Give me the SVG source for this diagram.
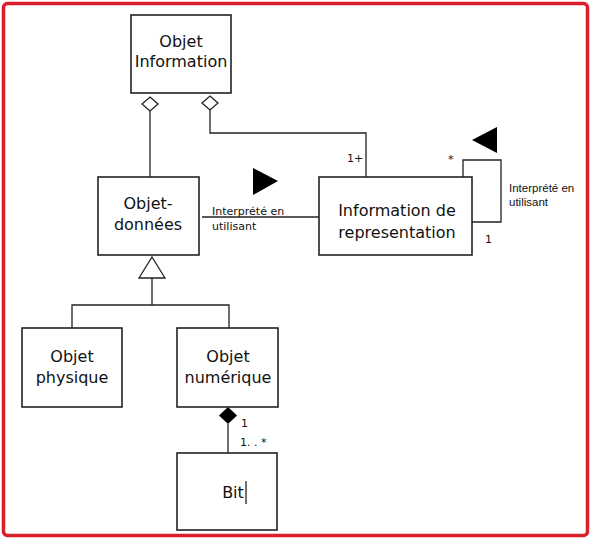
<svg xmlns="http://www.w3.org/2000/svg" width="591" height="540" viewBox="0 0 591 540">
<style>
.box{fill:#fff;stroke:#222;stroke-width:1.6}
.lbl{font-family:"DejaVu Sans",sans-serif;font-size:16px;fill:#111;text-anchor:middle}
.sm{font-family:"DejaVu Sans",sans-serif;font-size:11px;fill:#111}
.ar{font-family:"Liberation Sans",Arial,sans-serif;font-size:11.5px;fill:#111}
.ln{fill:none;stroke:#222;stroke-width:1.3}
</style>
<rect x="3.5" y="3.5" width="584" height="532" rx="4" fill="#fff" stroke="#d9202a" stroke-width="3.5"/>
<g id="connectors">
<polygon points="150,97 158,104 150,111 142,104" fill="#fff" stroke="#222" stroke-width="1.3"/>
<line class="ln" x1="150" y1="111" x2="150" y2="177"/>
<polygon points="210,96 218,103 210,110 202,103" fill="#fff" stroke="#222" stroke-width="1.3"/>
<polyline class="ln" points="210,110 210,133 366,133 366,177"/>
<text class="sm" x="347" y="162">1+</text>
<line class="ln" x1="202" y1="217" x2="319" y2="217"/>
<polygon points="253,168 278,181 253,195" fill="#000"/>
<text class="sm" x="212" y="215">Interprété en</text>
<text class="sm" x="212" y="230">utilisant</text>
<polyline class="ln" points="463,177 463,160 501,160 501,222 472,222"/>
<polygon points="497,127 472,140 497,153" fill="#000"/>
<text class="sm" x="448" y="163">*</text>
<text class="sm" x="485" y="243">1</text>
<text class="ar" x="509" y="192">Interprété en</text>
<text class="ar" x="509" y="206">utilisant</text>
<polygon points="152,257 165,278 139,278" fill="#fff" stroke="#222" stroke-width="1.3"/>
<polyline class="ln" points="152,278 152,305"/>
<polyline class="ln" points="72,328 72,305 229,305 229,328"/>
<polygon points="228,407 237,415.5 228,424 219,415.5" fill="#000"/>
<line class="ln" x1="228" y1="424" x2="228" y2="453"/>
<text class="sm" x="241" y="427">1</text>
<text class="sm" x="240" y="446">1. . *</text>
</g>
<g id="objet-information">
<rect class="box" x="131" y="15" width="100" height="78"/>
<text class="lbl" x="181" y="47">Objet</text>
<text class="lbl" x="181" y="67">Information</text>
</g>
<g id="objet-donnees">
<rect class="box" x="98" y="177" width="101" height="78"/>
<text class="lbl" x="148" y="209">Objet-</text>
<text class="lbl" x="148" y="230">données</text>
</g>
<g id="information-representation">
<rect class="box" x="319" y="177" width="153" height="78"/>
<text class="lbl" x="397" y="216">Information de</text>
<text class="lbl" x="397" y="238">representation</text>
</g>
<g id="objet-physique">
<rect class="box" x="22" y="328" width="100" height="79"/>
<text class="lbl" x="72" y="362">Objet</text>
<text class="lbl" x="72" y="383">physique</text>
</g>
<g id="objet-numerique">
<rect class="box" x="177" y="328" width="101" height="79"/>
<text class="lbl" x="228" y="362">Objet</text>
<text class="lbl" x="228" y="383">numérique</text>
</g>
<g id="bit">
<rect class="box" x="177" y="453" width="100" height="77"/>
<text class="lbl" x="233" y="498">Bit</text>
<line x1="246" y1="481" x2="246" y2="504" stroke="#111" stroke-width="1.2"/>
</g>
</svg>
